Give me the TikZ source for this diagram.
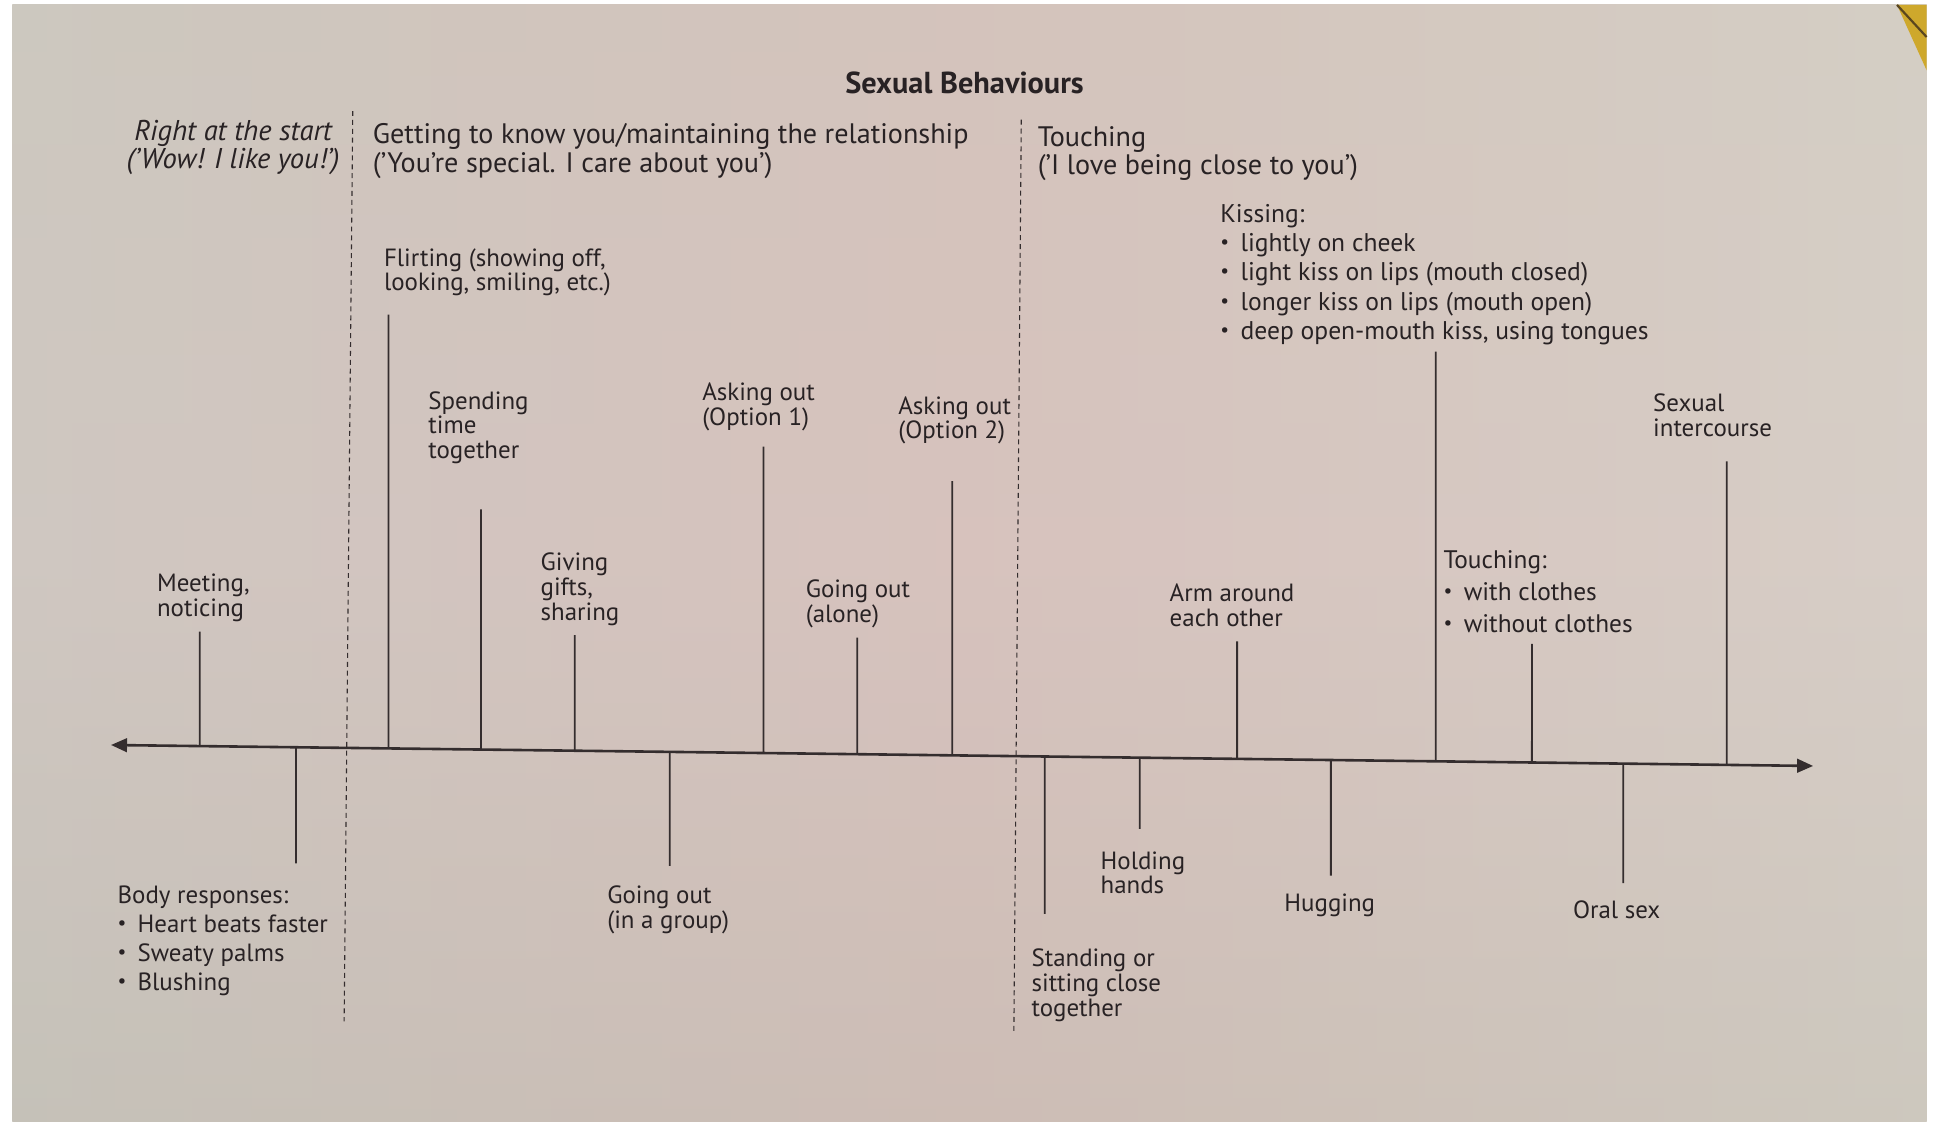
\documentclass[tikz,border=0pt]{standalone}
\usepackage{fontspec}
\setmainfont{PT Sans}
\usetikzlibrary{calc,arrows.meta}
\definecolor{ink}{RGB}{40,34,36}
\definecolor{lineink}{RGB}{52,45,46}
\definecolor{pageT}{RGB}{208,200,188}
\definecolor{pageMid}{RGB}{214,198,192}
\definecolor{pageB}{RGB}{192,186,174}
\definecolor{tintL}{RGB}{202,200,194}
\definecolor{tintM}{RGB}{216,192,188}
\definecolor{tintR}{RGB}{216,212,204}
\definecolor{corner}{RGB}{206,168,44}
\definecolor{edge}{RGB}{90,70,30}
\newcommand\bul{{\raisebox{0.12em}{\small\textbullet}}\hspace{0.45em}}
\newcommand\tk[3]{%
  \coordinate (#1a) at ($(axL)!{(#2-90)/1380}!(axR)$);
  \coordinate (#1b) at (#2,#3);
  \draw[tickln] (#1a) -- (#1b);}
\begin{document}
\begin{tikzpicture}[x=0.02cm,y=-0.02cm,
  lbl/.style={anchor=north west,inner sep=0,align=left,text=ink,
    font=\fontsize{11.5}{11.4}\selectfont},
  hdr/.style={anchor=north west,inner sep=0,align=left,text=ink,
    font=\fontsize{13}{13}\selectfont},
  tickln/.style={draw=lineink,line width=0.85pt},
  axisln/.style={draw=lineink,line width=1.2pt,
    {Triangle[length=2.6mm,width=2.2mm]}-{Triangle[length=2.6mm,width=2.2mm]}},
  divider/.style={draw=lineink,line width=0.5pt,dash pattern=on 2.3pt off 1.8pt}]
% page
\useasboundingbox (0,0) rectangle (1568,909);
\fill[white] (0,0) rectangle (1568,909);
\shade[top color=pageT,bottom color=pageB,middle color=pageMid] (10,4) rectangle (1562,909);
\shade[left color=tintL,right color=tintR,middle color=tintM,opacity=0.55] (10,4) rectangle (1562,909);
\fill[corner] (1538,4) -- (1562,4) -- (1562,57) -- cycle;
\draw[edge,line width=1pt] (1538,4) -- (1562,30);
% title and headers
\node[inner sep=0,text=ink,font=\bfseries\fontsize{14}{16}\selectfont] (title) at (782,67) {Sexual Behaviours};
\node[hdr,anchor=north,align=center,font=\itshape\fontsize{13.2}{13}\selectfont] (h1) at (189,97) {Right at the start\\('Wow! I like you!')};
\node[hdr] (h2) at (302,100) {Getting to know you/maintaining the relationship\\('You're special. I care about you')};
\node[hdr] (h3) at (841,102) {Touching\\('I love being close to you')};
% dividers
\coordinate (d1t) at (286,90); \coordinate (d1b) at (279,828);
\coordinate (d2t) at (828,97); \coordinate (d2b) at (822,836);
\draw[divider] (d1t) -- (d1b);
\draw[divider] (d2t) -- (d2b);
% axis
\coordinate (axL) at (90,604);
\coordinate (axR) at (1470,621);
\draw[axisln] (axL) -- (axR);
% ticks up
\tk{meet}{162}{512}
\tk{flirt}{315}{255}
\tk{spend}{390}{413}
\tk{gift}{466}{515}
\tk{ask1}{619}{362}
\tk{alone}{695}{517}
\tk{ask2}{772}{390}
\tk{arm}{1003}{520}
\tk{kiss}{1164}{285}
\tk{touch}{1242}{522}
\tk{sex}{1400}{374}
% ticks down
\tk{body}{240}{700}
\tk{group}{543}{702}
\tk{stand}{847}{741}
\tk{hold}{924}{672}
\tk{hug}{1079}{710}
\tk{oral}{1316}{716}
% labels above
\node[lbl] (Lmeet) at (127,465) {Meeting,\\noticing};
\node[lbl] (Lflirt) at (311,201) {Flirting (showing off,\\looking, smiling, etc.)};
\node[lbl] (Lspend) at (347,317) {Spending\\time\\together};
\node[lbl] (Lgift) at (438,448) {Giving\\gifts,\\sharing};
\node[lbl] (Lask1) at (569,310) {Asking out\\(Option 1)};
\node[lbl] (Lalone) at (653,470) {Going out\\(alone)};
\node[lbl] (Lask2) at (728,321) {Asking out\\(Option 2)};
\node[lbl] (Larm) at (948,473) {Arm around\\each other};
\node[lbl,font=\fontsize{11.8}{13.6}\selectfont] (Lkiss) at (989,165) {Kissing:\\\bul lightly on cheek\\\bul light kiss on lips (mouth closed)\\\bul longer kiss on lips (mouth open)\\\bul deep open-mouth kiss, using tongues};
\node[lbl,font=\fontsize{11.7}{14.8}\selectfont] (Ltouch) at (1170,446) {Touching:\\\bul with clothes\\\bul without clothes};
\node[lbl] (Lsex) at (1340,319) {Sexual\\intercourse};
% labels below
\node[lbl,font=\fontsize{11.5}{13.4}\selectfont] (Lbody) at (95,718) {Body responses:\\\bul Heart beats faster\\\bul Sweaty palms\\\bul Blushing};
\node[lbl] (Lgroup) at (492,718) {Going out\\(in a group)};
\node[lbl] (Lstand) at (836,769) {Standing or\\sitting close\\together};
\node[lbl] (Lhold) at (892,690) {Holding\\hands};
\node[lbl] (Lhug) at (1041,724) {Hugging};
\node[lbl] (Loral) at (1275,730) {Oral sex};
\end{tikzpicture}
\end{document}
